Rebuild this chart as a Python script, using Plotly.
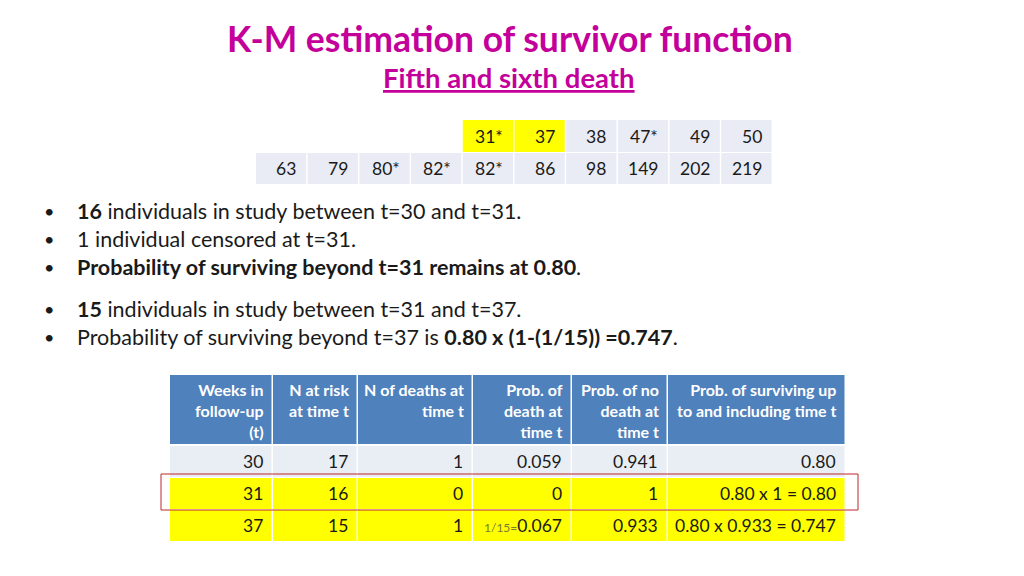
import plotly.graph_objects as go

# ---------------- data ----------------
title = "K-M estimation of survivor function"
subtitle = "Fifth and sixth death"

times_row1 = ["", "", "", "", "31*", "37", "38", "47*", "49", "50"]
times_row2 = ["63", "79", "80*", "82*", "82*", "86", "98", "149", "202", "219"]
highlight_row1 = [False, False, False, False, True, True, False, False, False, False]

bullets_a = [
    "<b>16</b> individuals in study between t=30 and t=31.",
    "1 individual censored at t=31.",
    "<b>Probability of surviving beyond t=31 remains at 0.80</b>.",
]
bullets_b = [
    "<b>15</b> individuals in study between t=31 and t=37.",
    "Probability of surviving beyond t=37 is <b>0.80 x (1-(1/15)) =0.747</b>.",
]

headers = [
    "Weeks in<br>follow-up<br>(t)",
    "N at risk<br>at time t",
    "N of deaths at<br>time t",
    "Prob. of<br>death at<br>time t",
    "Prob. of no<br>death at<br>time t",
    "Prob. of surviving up<br>to and including time t",
]
weeks = ["30", "31", "37"]
n_at_risk = ["17", "16", "15"]
n_deaths = ["1", "0", "1"]
p_death = ["0.059", "0", "0.067"]
p_death_note = ["", "", "1/15="]
p_no_death = ["0.941", "1", "0.933"]
p_surv = ["0.80", "0.80 x 1 = 0.80", "0.80 x 0.933 = 0.747"]
row_highlight = [False, True, True]

# ---------------- style ----------------
FONT = "Lato"
MAGENTA = "#C4009A"
GRAY = "#E9EBF5"
YELLOW = "#FFFF00"
BLUE = "#4F81BD"
TXT = "#1a1a1a"

fig = go.Figure()
shapes = []
ann = []

# title
ann.append(dict(x=510, y=38, text=f"<b>{title}</b>", showarrow=False,
                font=dict(family=FONT, size=35.5, color=MAGENTA), xanchor="center", yanchor="middle"))
ann.append(dict(x=509, y=77, text=f"<b><u>{subtitle}</u></b>", showarrow=False,
                font=dict(family=FONT, size=27.5, color=MAGENTA), xanchor="center", yanchor="middle"))

# top table
tx0, tw = 256, 51.7
rows_y = [(120, 152), (153, 184)]
for r, row in enumerate([times_row1, times_row2]):
    y0, y1 = rows_y[r]
    for c, v in enumerate(row):
        x0 = tx0 + c * tw
        x1 = x0 + tw - 1.5
        if r == 0 and v == "":
            continue
        col = YELLOW if (r == 0 and highlight_row1[c]) else GRAY
        shapes.append(dict(type="rect", x0=x0, x1=x1, y0=y0, y1=y1, fillcolor=col, line=dict(width=0), layer="below"))
        ann.append(dict(x=x1 - 8, y=(y0 + y1) / 2, text=v, showarrow=False, xanchor="right", yanchor="middle",
                        font=dict(family=FONT, size=17.5, color=TXT)))

# bullets
by = [211, 239, 267, 309, 337]
for i, t in enumerate(bullets_a + bullets_b):
    ann.append(dict(x=49, y=by[i], text="•", showarrow=False, xanchor="center", yanchor="middle",
                    font=dict(family=FONT, size=18, color=TXT)))
    ann.append(dict(x=75, y=by[i], text=t, showarrow=False, xanchor="left", yanchor="middle",
                    font=dict(family=FONT, size=21.5, color=TXT)))

# bottom table
cols = [170, 273, 358, 473, 572, 668, 846]
hy0, hy1 = 375, 444
for c, h in enumerate(headers):
    x0, x1 = cols[c], cols[c + 1] - 1.5
    shapes.append(dict(type="rect", x0=x0, x1=x1, y0=hy0, y1=hy1, fillcolor=BLUE, line=dict(width=0), layer="below"))
    ann.append(dict(x=x1 - 6, y=hy0 + 3, text=f"<b>{h}</b>", showarrow=False, xanchor="right", yanchor="top",
                    align="right", font=dict(family=FONT, size=16, color="white")))

row_top = [446, 478, 510]
row_h = 31
data_cols = [weeks, n_at_risk, n_deaths, p_death, p_no_death, p_surv]
for r in range(3):
    y0 = row_top[r]
    y1 = y0 + row_h
    col = YELLOW if row_highlight[r] else "#E9EDF4"
    for c in range(6):
        x0, x1 = cols[c], cols[c + 1] - 1.5
        shapes.append(dict(type="rect", x0=x0, x1=x1, y0=y0, y1=y1, fillcolor=col, line=dict(width=0), layer="below"))
        txt = data_cols[c][r]
        if c == 3 and p_death_note[r]:
            txt = f"<span style='font-size:12px;color:#7a7a3a'>{p_death_note[r]}</span>{txt}"
        ann.append(dict(x=x1 - 7, y=(y0 + y1) / 2, text=txt, showarrow=False, xanchor="right", yanchor="middle",
                        font=dict(family=FONT, size=17.5, color=TXT)))

# red outline around row t=31
shapes.append(dict(type="rect", x0=cols[0] - 9, x1=cols[-1] + 12, y0=row_top[1] - 4, y1=row_top[1] + row_h + 1,
                   line=dict(color="#C0272D", width=1), fillcolor="rgba(0,0,0,0)"))

# the page body adds an 8px margin, so shift the axis ranges to keep slide coordinates
fig.update_layout(
    width=1024, height=576,
    margin=dict(l=0, r=0, t=0, b=0),
    paper_bgcolor="white", plot_bgcolor="white",
    xaxis=dict(range=[8, 1032], visible=False, fixedrange=True),
    yaxis=dict(range=[584, 8], visible=False, fixedrange=True),
    shapes=shapes, annotations=ann, showlegend=False,
)
fig.write_html("out.html")
